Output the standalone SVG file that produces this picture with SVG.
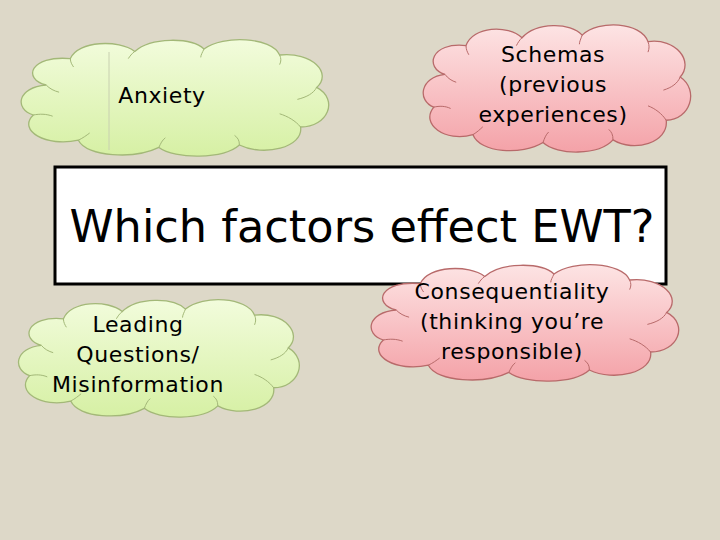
<svg xmlns="http://www.w3.org/2000/svg" width="720" height="540" viewBox="0 0 720 540">
<style>
.t{font-family:"DejaVu Sans","Liberation Sans",sans-serif;fill:#000;text-anchor:middle}
.s{font-size:22px;letter-spacing:0.6px}
.g{fill:url(#gg);stroke:#a3b878;stroke-width:1.3}
.p{fill:url(#pg);stroke:#b86a6a;stroke-width:1.3}
.in{fill:none;stroke-width:1}
</style>
<defs>
<linearGradient id="gg" x1="0" y1="0" x2="0" y2="1"><stop offset="0" stop-color="#f2fcdc"/><stop offset="1" stop-color="#d6f0a4"/></linearGradient>
<linearGradient id="pg" x1="0" y1="0" x2="0" y2="1"><stop offset="0" stop-color="#fde4e4"/><stop offset="1" stop-color="#f4a2a8"/></linearGradient>
<path id="cloud" vector-effect="non-scaling-stroke" d="M20,40 C5,35 10,15 35,18 C40,3 65,2 75,12 C85,0 110,0 118,10 C130,-2 160,0 165,15 C185,12 198,30 188,42 C202,52 195,75 178,75 C180,92 155,100 140,90 C130,102 100,102 90,92 C75,102 45,100 40,86 C20,92 2,78 12,65 C0,60 2,42 20,40 Z"/>
<path id="inner" vector-effect="non-scaling-stroke" fill="none" d="M20,40 C22,43 25,45 28,46 M35,18 C35,21 36,23 37,25 M75,12 C73,14 72,16 71,18 M118,10 C117,13 116,15 116,17 M165,15 C166,18 166,20 165,23 M188,42 C186,47 182,50 176,52 M178,75 C175,70 170,66 165,64 M140,90 C140,86 139,84 137,82 M90,92 C91,89 92,86 94,84 M40,86 C43,84 45,82 47,80 M12,65 C16,64 20,64 24,66"/>
</defs>
<rect width="720" height="540" fill="#ddd8c8"/>

<g id="box">
<rect x="55" y="167" width="611" height="117" fill="#fff" stroke="#000" stroke-width="3"/>
<text class="t" x="362" y="242" font-size="44" textLength="585" lengthAdjust="spacingAndGlyphs">Which factors effect EWT?</text>
</g>

<g id="anxiety">
<use href="#cloud" class="g" transform="translate(14,37) scale(1.61,1.2)"/>
<use href="#inner" class="in" stroke="#a3b878" transform="translate(14,37) scale(1.61,1.2)"/>
<line x1="109" y1="52" x2="109" y2="150" stroke="#c8d0b0" stroke-width="1"/>
<text class="t s" x="162" y="103">Anxiety</text>
</g>

<g id="schemas">
<use href="#cloud" class="p" transform="translate(417,22) scale(1.4,1.31)"/>
<use href="#inner" class="in" stroke="#b86a6a" transform="translate(417,22) scale(1.4,1.31)"/>
<text class="t s" x="553" y="62">Schemas</text>
<text class="t s" x="553" y="92">(previous</text>
<text class="t s" x="553" y="122">experiences)</text>
</g>

<g id="leading">
<use href="#cloud" class="g" transform="translate(12,297) scale(1.47,1.21)"/>
<use href="#inner" class="in" stroke="#a3b878" transform="translate(12,297) scale(1.47,1.21)"/>
<text class="t s" x="138" y="332">Leading</text>
<text class="t s" x="138" y="362">Questions/</text>
<text class="t s" x="138" y="392">Misinformation</text>
</g>

<g id="consequentiality">
<use href="#cloud" class="p" transform="translate(364,262) scale(1.61,1.2)"/>
<use href="#inner" class="in" stroke="#b86a6a" transform="translate(364,262) scale(1.61,1.2)"/>
<text class="t s" x="512" y="299">Consequentiality</text>
<text class="t s" x="512" y="329">(thinking you’re</text>
<text class="t s" x="512" y="359">responsible)</text>
</g>

<g id="connectors"></g>
</svg>
